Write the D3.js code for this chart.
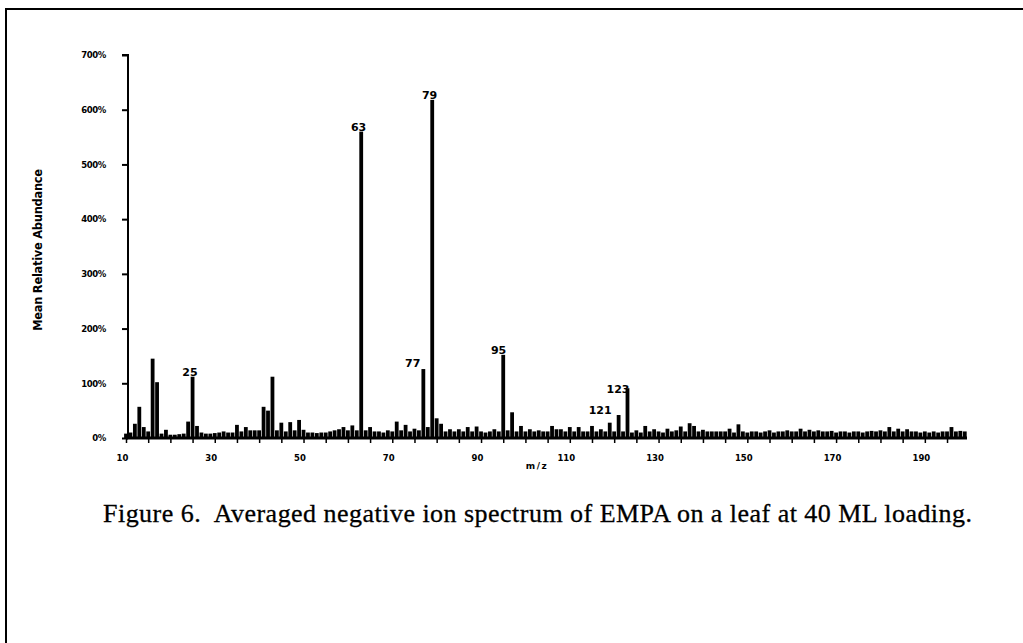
<!DOCTYPE html>
<html><head><meta charset="utf-8">
<script src="https://cdn.jsdelivr.net/npm/d3@7"></script>
<style>body{margin:0;background:#fff}svg{display:block}</style>
</head><body>
<svg id="c" width="1023" height="643"></svg>
<script>
const mzStart = 10;
const abundance = [
 8,10,26,57,20,12,145,102,8,15, 6,6,7,8,30,112,22,10,8,8,
 9,10,12,10,10,24,12,20,14,14, 14,57,50,112,14,28,12,29,14,33,
 15,10,10,9,10,10,12,14,16,20, 14,23,14,560,14,20,12,12,10,14,
 12,30,14,24,12,17,14,126,20,618, 36,26,12,16,12,16,12,20,12,21,
 12,10,12,16,12,152,14,47,12,22, 12,16,12,14,12,12,22,16,16,12,
 20,12,20,12,12,22,12,16,12,28, 12,42,12,91,10,14,10,22,12,16,
 12,10,17,12,14,21,12,27,22,12, 15,12,12,12,12,12,17,10,25,12,
 10,12,12,10,12,14,10,12,12,14, 12,12,17,12,15,12,14,12,12,13,
 10,12,12,10,12,12,10,12,13,12, 14,12,20,12,17,12,16,12,12,10,
 12,10,12,10,12,12,20,12,13,12
];
const peakMz = [25, 63, 77, 79, 95, 121, 123];
const peakText = ["25", "63", "77", "79", "95", "121", "123"];
const yTicks = [0,100,200,300,400,500,600,700];
const xTickLabels = [10,30,50,70,90,110,130,150,170,190];
const yTitle = "Mean Relative Abundance";
const xTitle = "m/z";
const caption = "Figure 6.  Averaged negative ion spectrum of EMPA on a leaf at 40 ML loading.";

// label placement (style only): horizontal offset of text end from bar, vertical gap
const labelDx = {25:5, 63:5, 77:-3, 79:5, 95:3, 121:-7, 123:2};
const labelDy = {25:-1, 63:-1, 77:-2, 79:-1, 95:-1, 121:-1, 123:5};

const data = abundance.map((v,i)=>({mz: mzStart+i, v}));
const svg = d3.select("#c");

// frame
svg.append("line").attr("x1",6).attr("x2",1023).attr("y1",9).attr("y2",9).attr("stroke","#000").attr("stroke-width",2);
svg.append("line").attr("x1",6).attr("x2",6).attr("y1",8).attr("y2",643).attr("stroke","#000").attr("stroke-width",2);

const x = d3.scaleLinear().domain([10,199.5]).range([126,967]);
const y = d3.scaleLinear().domain([0,700]).range([438,55]);

// y axis
const gy = svg.append("g").attr("transform","translate(128,0)")
  .call(d3.axisLeft(y).tickValues(yTicks).tickFormat(d=>d+"%").tickSize(6).tickPadding(16));
gy.select(".domain").attr("stroke-width",2).attr("d","M-6,55H0V438");
gy.selectAll(".tick line").attr("stroke-width",2);
gy.selectAll("text").attr("font-family","DejaVu Sans").attr("font-weight","bold").attr("font-size",8.5).attr("letter-spacing",-0.4);

// x axis
const xt = d3.range(10,200,5);
const gx = svg.append("g").attr("transform","translate(0,438)")
  .call(d3.axisBottom(x).tickValues(xt).tickFormat(d=>xTickLabels.includes(d)?d:"").tickSize(5).tickPadding(12));
gx.select(".domain").attr("stroke-width",3).attr("d","M126,0H967");
gx.selectAll(".tick line").attr("stroke-width",1.5);
gx.selectAll("text").attr("font-family","DejaVu Sans").attr("font-weight","bold").attr("font-size",8.5).attr("dx",-4);

// bars
svg.append("g").selectAll("rect").data(data).join("rect")
  .attr("x",d=>x(d.mz)-1.9).attr("width",3.8)
  .attr("y",d=>y(d.v)).attr("height",d=>y(0)-y(d.v)+1)
  .attr("fill","#000");

// peak labels
const byMz = new Map(data.map(d=>[d.mz,d.v]));
svg.append("g").selectAll("text").data(peakMz).join("text")
  .attr("x",d=>x(d)+labelDx[d]).attr("y",d=>y(byMz.get(d))+labelDy[d])
  .attr("text-anchor","end")
  .attr("font-family","DejaVu Sans").attr("font-size",11).attr("font-weight","600")
  .text((d,i)=>peakText[i]);

// titles
svg.append("text").attr("transform","translate(42,250) rotate(-90)").attr("text-anchor","middle")
  .attr("font-family","DejaVu Sans").attr("font-weight","bold").attr("font-size",11.5).attr("letter-spacing",-0.3).text(yTitle);
svg.append("text").attr("x",537).attr("y",469).attr("text-anchor","middle")
  .attr("font-family","DejaVu Sans").attr("font-weight","bold").attr("font-size",9).attr("letter-spacing",1.5).text(xTitle);
svg.append("text").attr("x",103).attr("y",522)
  .attr("font-family","Liberation Serif").attr("font-size",26).attr("stroke","#000").attr("stroke-width",0.3)
  .attr("textLength",869).attr("lengthAdjust","spacing")
  .attr("xml:space","preserve").style("white-space","pre").text(caption);
</script>
</body></html>
